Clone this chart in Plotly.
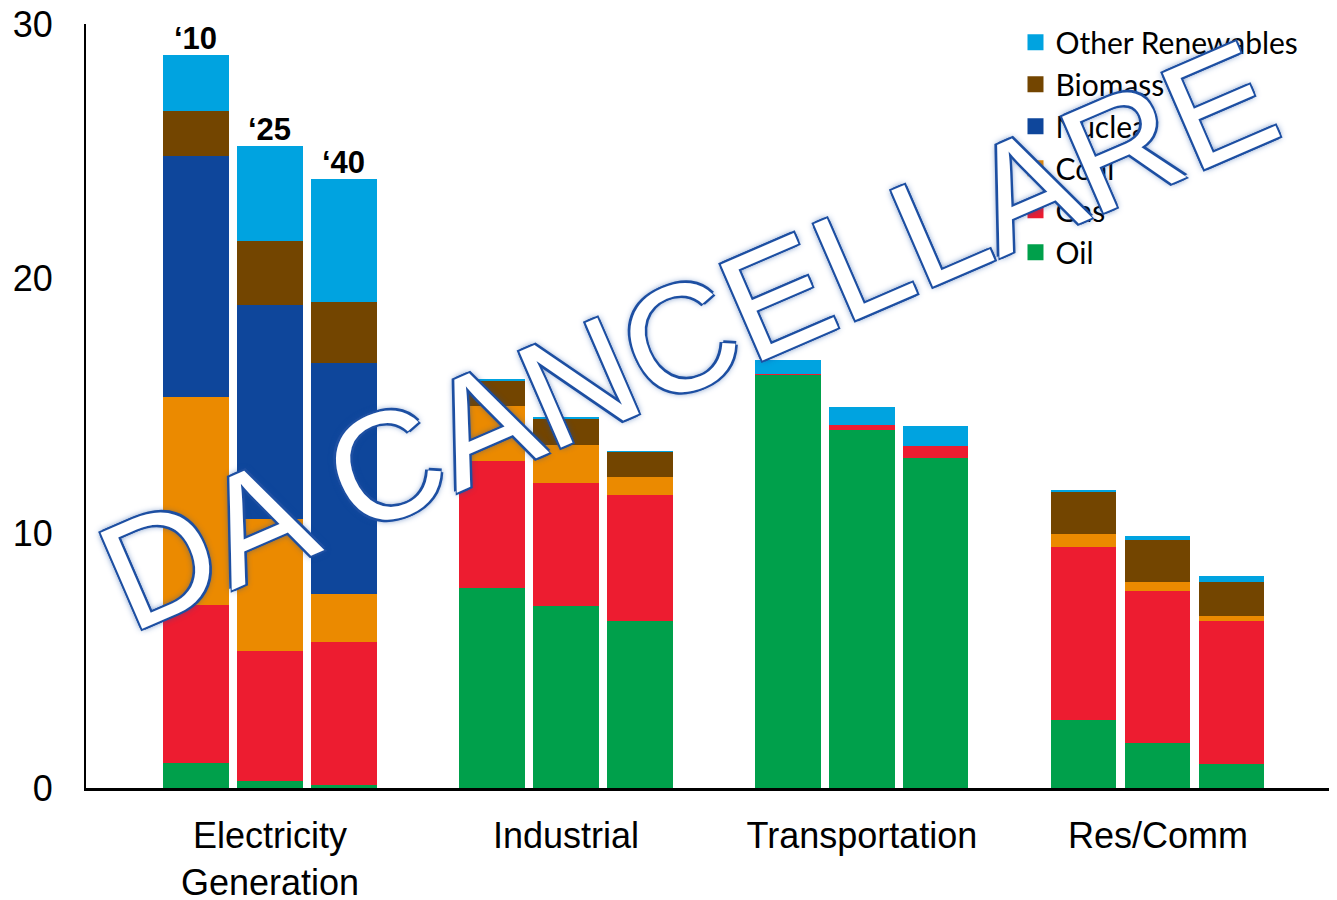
import plotly.graph_objects as go

# sectors and years
sectors = ["Electricity<br>Generation", "Industrial", "Transportation", "Res/Comm"]
years = ["\u201810", "\u201825", "\u201840"]

# values per bar, ordered sector by sector, year by year
oil = [1.0, 0.28, 0.1, 7.85, 7.16, 6.56, 16.22, 14.04, 12.97, 2.67, 1.75, 0.93]
gas = [6.2, 5.1, 5.64, 5.0, 4.81, 4.94, 0.05, 0.21, 0.45, 6.8, 5.99, 5.62]
coal = [8.15, 5.2, 1.89, 2.16, 1.48, 0.71, 0.0, 0.0, 0.0, 0.51, 0.34, 0.21]
nuclear = [9.45, 8.4, 9.06, 0.0, 0.0, 0.0, 0.0, 0.0, 0.0, 0.0, 0.0, 0.0]
biomass = [1.77, 2.49, 2.41, 1.0, 1.05, 0.99, 0.0, 0.0, 0.0, 1.64, 1.66, 1.33]
other_renewables = [2.23, 3.73, 4.8, 0.05, 0.05, 0.03, 0.55, 0.7, 0.79, 0.08, 0.15, 0.22]

series = [
    ("Oil", oil, "#00a04b"),
    ("Gas", gas, "#ed1c30"),
    ("Coal", coal, "#eb8a00"),
    ("Nuclear", nuclear, "#0e469b"),
    ("Biomass", biomass, "#734500"),
    ("Other Renewables", other_renewables, "#00a3e0"),
]

# one slot per bar, with an empty slot between sectors
slots = [4 * s + y for s in range(len(sectors)) for y in range(len(years))]
centers = [4 * s + 1 for s in range(len(sectors))]

fig = go.Figure()
for name, vals, color in series:
    fig.add_trace(go.Bar(
        x=slots, y=vals, name=name, width=0.88,
        marker=dict(color=color, line=dict(width=0)),
        showlegend=False,
    ))
# legend entries with bigger squares
for name, vals, color in series:
    fig.add_trace(go.Scatter(
        x=[None], y=[None], mode="markers", name=name,
        marker=dict(symbol="square", size=18, color=color),
    ))

totals = [sum(v) for v in zip(*[s[1] for s in series])]
for i, label in enumerate(years):
    fig.add_annotation(
        x=slots[i], y=totals[i], text=label, showarrow=False,
        yanchor="bottom", yshift=-3,
        font=dict(family="Liberation Sans, Arial", size=31, color="black", weight="bold"),
    )

blue = "#1d4fa2"
fig.add_annotation(
    xref="paper", yref="paper", x=0.481, y=0.593,
    text="DA CANCELLARE", showarrow=False, textangle=-23.4,
    font=dict(
        family="Liberation Sans, Arial", size=152, color="white",
        shadow=(f"-2px -2px 0 {blue}, 2px -2px 0 {blue}, -2px 2px 0 {blue}, "
                f"2px 2px 0 {blue}, 0 0 7px {blue}"),
    ),
)

# the page adds an 8px body margin, so the figure is 8px smaller each way
fig.update_layout(
    width=1329, height=892,
    margin=dict(l=78, r=0, t=16, b=112),
    paper_bgcolor="white", plot_bgcolor="white",
    barmode="stack", bargap=0,
    showlegend=True,
    legend=dict(
        x=0.743, y=1.01, xanchor="left", yanchor="top",
        traceorder="reversed", bgcolor="rgba(0,0,0,0)",
        font=dict(family="Lato", size=30, color="black"),
    ),
    xaxis=dict(
        range=[-1.486, 15.42], tickvals=centers, ticktext=sectors,
        showline=True, linecolor="black", linewidth=3, automargin=False,
        showgrid=False, zeroline=False, ticks="", ticklabelstandoff=14,
        ticklabeloverflow="allow",
        tickfont=dict(family="Liberation Sans, Arial", size=36, color="black"),
    ),
    yaxis=dict(
        range=[0, 30], tickvals=[0, 10, 20, 30], automargin=False,
        showline=True, linecolor="black", linewidth=2,
        showgrid=False, zeroline=False, ticks="", ticklabelstandoff=24,
        ticklabeloverflow="allow",
        tickfont=dict(family="Liberation Sans, Arial", size=36, color="black"),
    ),
)

fig.write_html("out.html")
